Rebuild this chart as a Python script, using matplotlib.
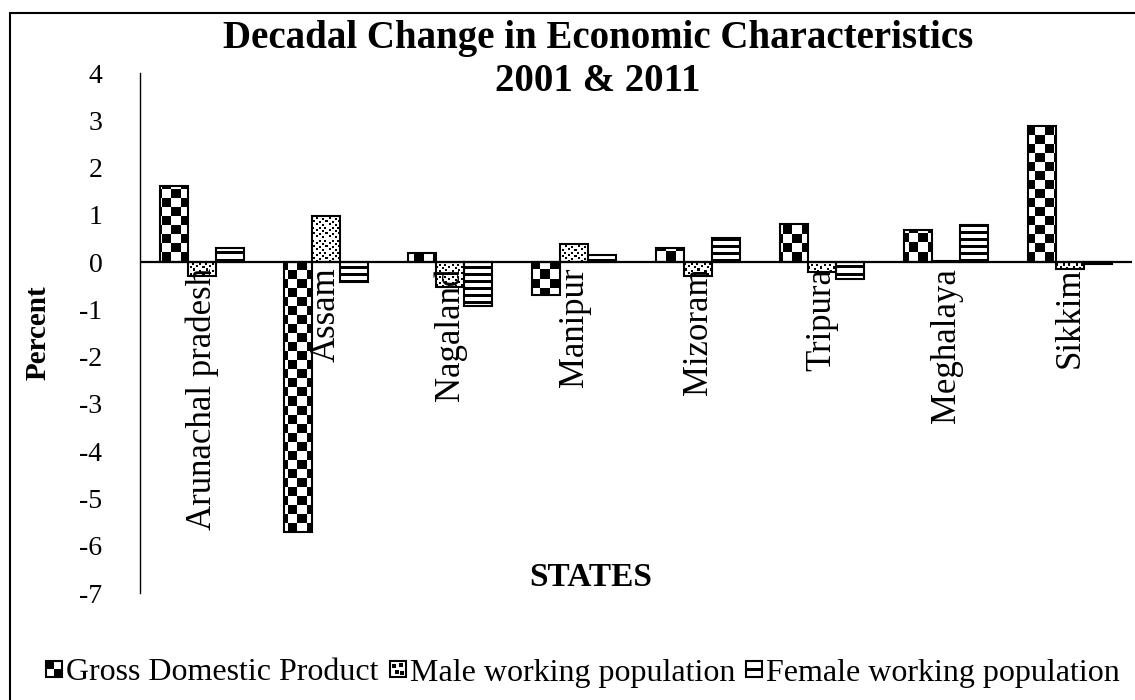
import numpy as np
import matplotlib
matplotlib.use("Agg")
import matplotlib.pyplot as plt
from matplotlib.patches import Rectangle
from matplotlib.legend_handler import HandlerBase
import matplotlib.transforms as mtransforms

states = ['Arunachal pradesh', 'Assam', 'Nagaland', 'Manipur',
          'Mizoram', 'Tripura', 'Meghalaya', 'Sikkim']
gdp = [1.6, -5.7, 0.2, -0.7, 0.3, 0.8, 0.68, 2.87]
male = [-0.3, 0.98, -0.52, 0.38, -0.3, -0.2, 0.02, -0.15]
female = [0.3, -0.42, -0.93, 0.14, 0.5, -0.36, 0.78, -0.05]
series_names = ['Gross Domestic Product', 'Male working population',
                'Female working population']
yticks = [4, 3, 2, 1, 0, -1, -2, -3, -4, -5, -6, -7]

plt.rcParams['font.family'] = ['Liberation Serif', 'DejaVu Serif']

W, H = 1135, 700
fig = plt.figure(figsize=(W / 100, H / 100), dpi=100)
ax = fig.add_axes([140 / W, 1 - 593 / H, 992 / W, 520 / H])
ax.set_xlim(-0.5, len(states) - 0.5)
ax.set_ylim(-7, 4)

bw = 0.226
x = np.arange(len(states))


def pat_checker(px, py):
    return ((px // 9) + (py // 9)) % 2 == 0


DOT_TILE = np.array([
    [1, 1, 0, 0, 0, 0, 0, 1, 1, 0, 0, 0],
    [1, 1, 0, 0, 0, 0, 0, 1, 1, 0, 0, 0],
    [0, 0, 0, 0, 1, 1, 0, 0, 0, 0, 0, 0],
    [0, 0, 0, 0, 1, 1, 0, 0, 0, 0, 1, 1],
    [0, 0, 0, 0, 0, 0, 0, 0, 0, 0, 1, 1],
    [0, 1, 1, 0, 0, 0, 0, 0, 0, 0, 0, 0],
    [0, 1, 1, 0, 0, 0, 0, 1, 1, 0, 0, 0],
    [0, 0, 0, 0, 0, 0, 0, 1, 1, 0, 0, 0],
    [0, 0, 0, 0, 1, 1, 0, 0, 0, 0, 0, 0],
    [0, 0, 0, 0, 1, 1, 0, 0, 0, 0, 1, 1],
    [0, 0, 0, 0, 0, 0, 0, 0, 0, 0, 1, 1],
    [0, 0, 0, 0, 0, 0, 0, 0, 0, 0, 0, 0],
], dtype=bool)


def pat_dots(px, py):
    return DOT_TILE[py % 12, px % 12]


def pat_stripes(px, py):
    return (py % 7) < 3


patterns = [pat_checker, pat_dots, pat_stripes]
series = [gdp, male, female]
offsets = [-bw, 0, bw]

for vals, off, pat in zip(series, offsets, patterns):
    bars = ax.bar(x + off, vals, width=bw, facecolor='none',
                  edgecolor='black', linewidth=1.5, zorder=3)
    for b in bars:
        x0, y0 = b.get_x(), b.get_y()
        x1, y1 = x0 + b.get_width(), y0 + b.get_height()
        (px0, py0), (px1, py1) = ax.transData.transform([(x0, min(y0, y1)), (x1, max(y0, y1))])
        wpx = max(int(round(px1 - px0)), 1)
        hpx = max(int(round(py1 - py0)), 1)
        gx = np.arange(wpx) + int(round(px0))
        gy = np.arange(hpx) + int(round(H - py1))
        GX, GY = np.meshgrid(gx, gy)
        img = np.where(pat(GX, GY), 0.0, 1.0)
        ax.imshow(img, cmap='gray', vmin=0, vmax=1, interpolation='nearest',
                  extent=(x0, x1, min(y0, y1), max(y0, y1)), aspect='auto', zorder=2)

ax.set_xlim(-0.5, len(states) - 0.5)
ax.set_ylim(-7, 4)
ax.axhline(0, color='black', linewidth=1.6, zorder=4)

for s in ['top', 'right', 'bottom']:
    ax.spines[s].set_visible(False)
ax.spines['left'].set_linewidth(1.0)
ax.set_xticks([])
ax.set_yticks(yticks)
ax.set_yticklabels([str(t) for t in yticks])
ax.tick_params(axis='y', length=0, pad=27, labelsize=20)

off = mtransforms.ScaledTranslation(0, -4 / 72, fig.dpi_scale_trans)
for i, s in enumerate(states):
    ax.text(i, 0, s, rotation=90, ha='center', va='top', fontsize=25,
            transform=ax.transData + off, zorder=5)

fig.text(598 / W, 1 - 60 / H, 'Decadal Change in Economic Characteristics\n2001 & 2011',
         ha='center', va='center', fontsize=28, fontweight='bold', linespacing=1.2)
fig.text(591 / W, 1 - 578 / H, 'STATES', ha='center', va='center',
         fontsize=24, fontweight='bold')
fig.text(38 / W, 1 - 333 / H, 'Percent', ha='center', va='center', rotation=90,
         fontsize=21, fontweight='bold')


class IconHandler(HandlerBase):
    def __init__(self, kind):
        super().__init__()
        self.kind = kind

    def create_artists(self, legend, orig_handle, xdescent, ydescent, width,
                       height, fontsize, trans):
        s = min(width, height)
        x0 = -xdescent + (width - s) / 2
        y0 = -ydescent + (height - s) / 2
        arts = [Rectangle((x0, y0), s, s, facecolor='white', edgecolor='black',
                          linewidth=1.5, transform=trans)]
        if self.kind == 0:
            h = s / 2
            arts.append(Rectangle((x0, y0 + h), h, h, facecolor='black',
                                  edgecolor='none', transform=trans))
            arts.append(Rectangle((x0 + h, y0), h, h, facecolor='black',
                                  edgecolor='none', transform=trans))
        elif self.kind == 1:
            d = s / 4
            for (a, b) in [(0.15, 0.6), (0.55, 0.65), (0.3, 0.2), (0.65, 0.15)]:
                arts.append(Rectangle((x0 + a * s, y0 + b * s), d, d,
                                      facecolor='black', edgecolor='none', transform=trans))
        else:
            arts.append(Rectangle((x0, y0 + 0.4 * s), s, 0.2 * s,
                                  facecolor='black', edgecolor='none', transform=trans))
        return arts


handles = [Rectangle((0, 0), 1, 1) for _ in range(3)]
handler_map = {h: IconHandler(k) for k, h in enumerate(handles)}
leg = fig.legend(handles, series_names, handler_map=handler_map,
                 loc='center', bbox_to_anchor=(583 / W, 1 - 673 / H), ncol=3,
                 frameon=False, fontsize=23, handlelength=0.5, handleheight=0.5,
                 handletextpad=0.12, columnspacing=0.35, borderpad=0)

fig.patches.append(Rectangle((10 / W, -0.1), 1.2, 1 - 13 / H + 0.1, transform=fig.transFigure,
                             facecolor='none', edgecolor='black', linewidth=1.5))

fig.savefig('out.png', dpi=100)
